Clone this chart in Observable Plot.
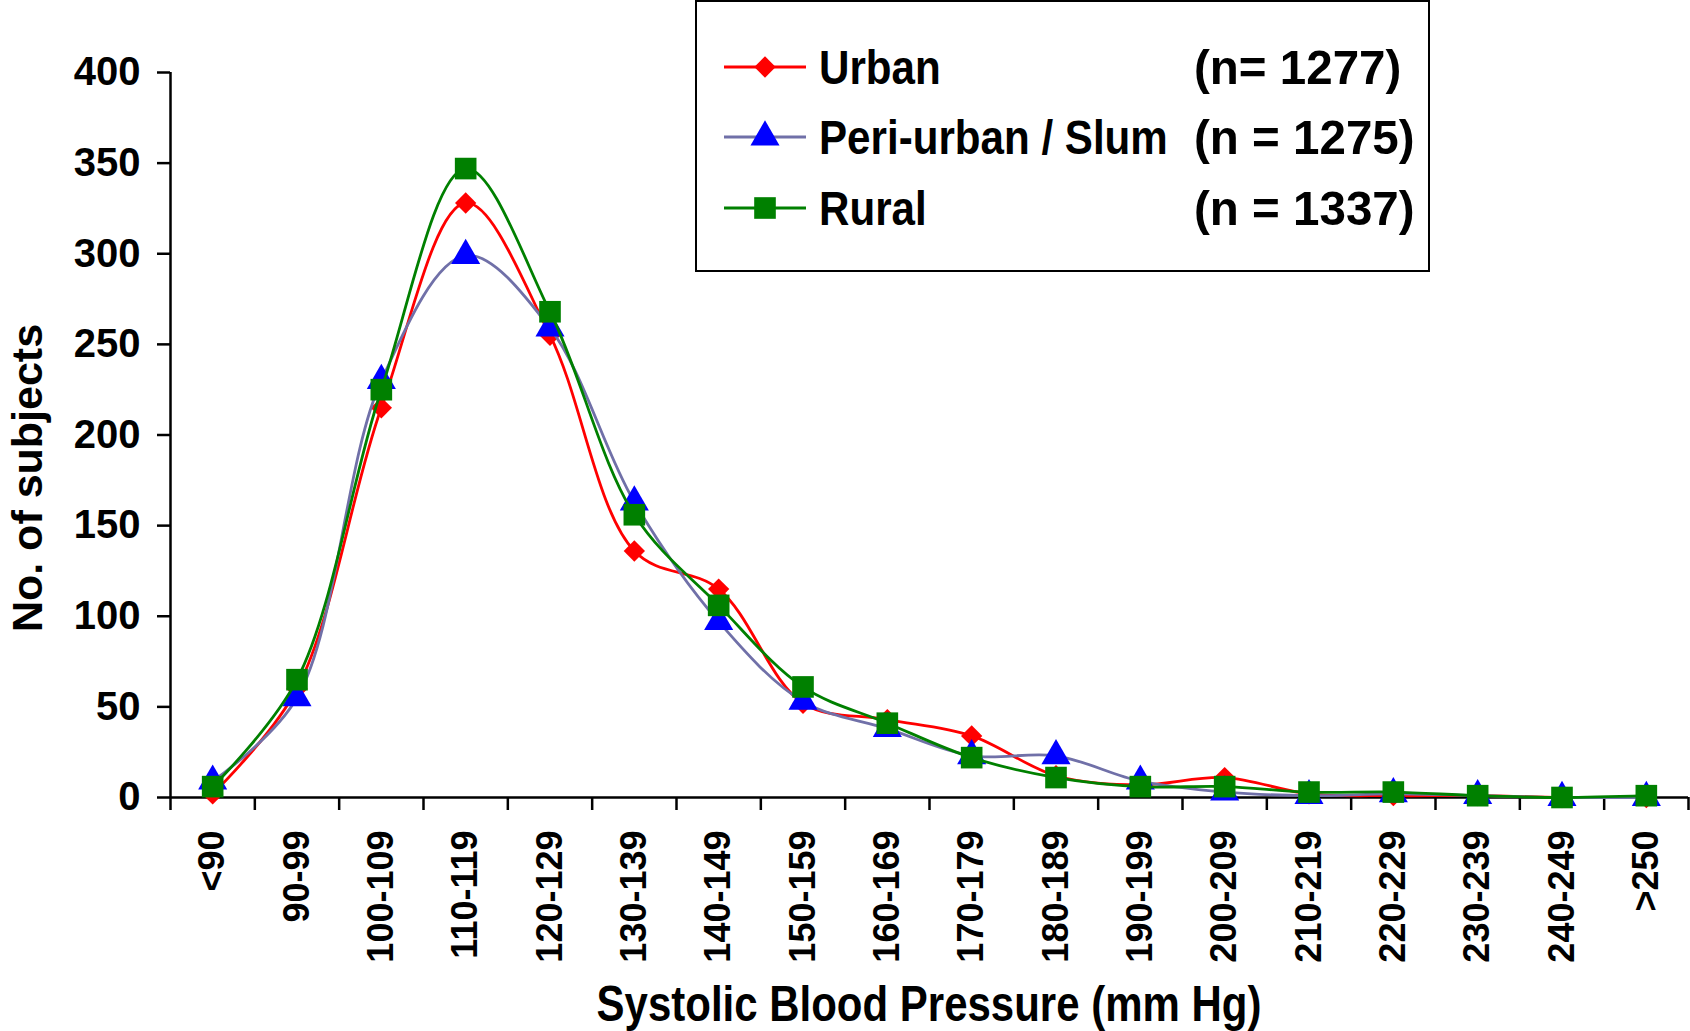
<!DOCTYPE html>
<html>
<head>
<meta charset="utf-8">
<script src="https://cdn.jsdelivr.net/npm/d3@7"></script>
<script src="https://cdn.jsdelivr.net/npm/@observablehq/plot@0.6"></script>
<style>
  html, body { margin: 0; padding: 0; background: #fff; }
  #wrap { position: relative; width: 1690px; height: 1031px; overflow: hidden; }
  #legend { position: absolute; left: 695px; top: 0px; }
</style>
</head>
<body>
<div id="wrap"></div>
<script>
// ---- data ----
const categories = ["<90","90-99","100-109","110-119","120-129","130-139","140-149","150-159","160-169","170-179","180-189","190-199","200-209","210-219","220-229","230-239","240-249",">250"];
const urban     = [2, 60, 215, 328, 255, 136, 115, 52, 43, 34, 12, 7, 11, 2, 1, 1, 0, 0];
const periUrban = [9, 55, 230, 299, 259, 163, 97, 53, 38, 23, 23, 9, 3, 1, 2, 1, 0, 0];
const rural     = [6, 65, 225, 347, 268, 156, 106, 61, 41, 22, 11, 6, 6, 3, 3, 1, 0, 1];
const yTicks = [0, 50, 100, 150, 200, 250, 300, 350, 400];
const seriesNames = ["Urban", "Peri-urban / Slum", "Rural"];
const seriesCounts = ["(n= 1277)", "(n = 1275)", "(n = 1337)"];
const xTitle = "Systolic Blood Pressure (mm Hg)";
const yTitle = "No. of subjects";

// ---- styles ----
const series = [
  {name: seriesNames[0], n: seriesCounts[0], values: urban,     line: "#ff0000", fill: "#ff0000", symbol: "diamond2", r: 9.6},
  {name: seriesNames[1], n: seriesCounts[1], values: periUrban, line: "#7070a8", fill: "#0000ff", symbol: "triangle", r: 10.8},
  {name: seriesNames[2], n: seriesCounts[2], values: rural,     line: "#008000", fill: "#008000", symbol: "square",   r: 12.2}
];
const FONT = "'Liberation Sans', Arial, sans-serif";

const tables = series.map(s => categories.map((c, i) => ({cat: c, pos: i + 0.5, value: s.values[i], series: s.name})));

const marks = [
  Plot.axisY({ticks: yTicks, tickSize: 13, tickPadding: 17, fontSize: 40, strokeWidth: 2.5, label: null, tickFormat: d => String(d)}),
  Plot.axisX({ticks: d3.range(0, categories.length + 1), tickSize: 13, strokeWidth: 2.5, tickFormat: () => "", label: null}),
  Plot.axisX({ticks: categories.map((c, i) => i + 0.5), tickSize: 0, tickPadding: 33, tickRotate: -90, fontSize: 36,
              tickFormat: d => categories[Math.floor(d)], label: null}),
  Plot.ruleX([0], {y1: 0, y2: yTicks[yTicks.length - 1], stroke: "#000", strokeWidth: 2.5}),
  Plot.ruleY([0], {x1: 0, x2: categories.length, stroke: "#000", strokeWidth: 2.5})
];
series.forEach((s, k) => {
  marks.push(Plot.line(tables[k], {x: "pos", y: "value", stroke: s.line, strokeWidth: 2.8, curve: "catmull-rom"}));
  marks.push(Plot.dot(tables[k], {x: "pos", y: "value", symbol: s.symbol, r: s.r, fill: s.fill, stroke: "none"}));
});

const chart = Plot.plot({
  width: 1690,
  height: 1031,
  marginLeft: 170,
  marginRight: 2,
  marginTop: 72,
  marginBottom: 234,
  x: {domain: [0, categories.length], axis: null},
  y: {domain: [0, 400], axis: null},
  style: {fontFamily: FONT, fontWeight: "bold", color: "#000", background: "#fff", overflow: "visible"},
  marks
});
document.getElementById("wrap").appendChild(chart);

// axis titles
const svg = d3.select(chart);
svg.append("text")
  .attr("transform", "translate(929,1021) scale(0.84,1)")
  .attr("text-anchor", "middle")
  .attr("font-family", FONT).attr("font-weight", "bold").attr("font-size", 50)
  .attr("fill", "#000")
  .text(xTitle);
svg.append("text")
  .attr("transform", "translate(42,478) rotate(-90)")
  .attr("text-anchor", "middle")
  .attr("font-family", FONT).attr("font-weight", "bold").attr("font-size", 43)
  .attr("fill", "#000")
  .text(yTitle);

// legend box
const lg = d3.select("#wrap").append("svg")
  .attr("id", "legend").attr("width", 736).attr("height", 273);
lg.append("rect").attr("x", 1).attr("y", 1).attr("width", 733).attr("height", 270)
  .attr("fill", "#fff").attr("stroke", "#000").attr("stroke-width", 2);
const symMap = {diamond2: d3.symbolDiamond2, triangle: d3.symbolTriangle, square: d3.symbolSquare};
const rowY = [67, 137, 208];
series.forEach((s, k) => {
  const g = lg.append("g").attr("transform", `translate(0,${rowY[k]})`);
  g.append("line").attr("x1", 29).attr("x2", 111).attr("y1", 0).attr("y2", 0)
    .attr("stroke", s.line).attr("stroke-width", 2.8);
  g.append("path").attr("transform", "translate(70,0)")
    .attr("d", d3.symbol(symMap[s.symbol], Math.PI * s.r * s.r)())
    .attr("fill", s.fill);
  g.append("text").attr("transform", "translate(124,17) scale(0.86,1)")
    .attr("font-family", FONT).attr("font-weight", "bold").attr("font-size", 49).attr("fill", "#000")
    .text(s.name);
  g.append("text").attr("transform", "translate(499,17) scale(0.97,1)")
    .attr("font-family", FONT).attr("font-weight", "bold").attr("font-size", 49).attr("fill", "#000")
    .text(s.n);
});
</script>
</body>
</html>
